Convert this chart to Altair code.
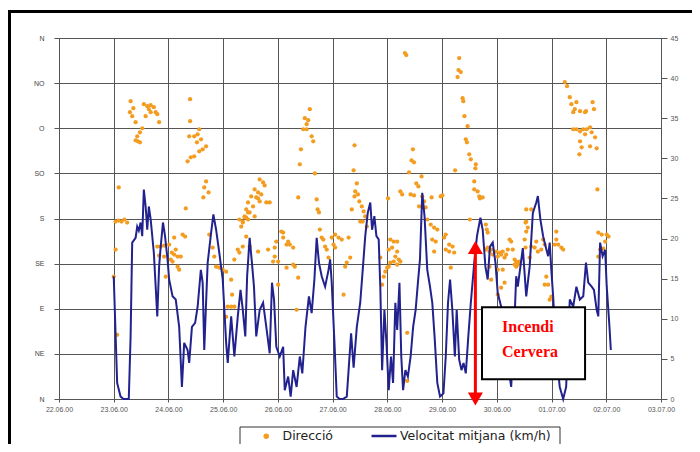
import json
import altair as alt
import pandas as pd

# ---------------- data ----------------
# velocity: hours after 23.06.00 00:00 and km/h
vel_hours = [0.0,1.5,3.0,4.3,6.6,7.4,8.1,9.6,10.3,11.0,
             11.8,12.5,13.2,14.0,14.7,15.4,16.2,17.6,19.1,19.9,
             20.6,21.6,22.5,23.6,24.3,25.8,27.2,28.7,29.9,30.9,
             32.4,33.1,34.3,35.7,36.8,38.2,39.0,39.7,40.5,41.2,
             42.7,43.7,44.9,46.3,47.8,49.3,50.0,51.5,52.9,54.4,
             55.6,56.6,57.7,58.5,59.6,60.6,61.5,62.5,64.0,65.5,
             66.9,68.4,69.4,70.3,71.3,72.8,74.3,75.0,76.5,77.6,
             78.7,80.2,81.6,82.7,84.1,85.6,86.8,88.0,89.0,90.0,
             91.2,92.7,94.2,94.9,95.6,96.8,97.8,99.1,100.5,102.2,
             103.0,104.1,105.2,106.6,108.1,109.3,110.3,111.4,112.5,113.3,
             114.3,115.2,116.2,116.9,117.7,118.7,119.6,120.6,121.6,122.5,
             123.5,124.3,125.3,126.1,126.9,127.9,129.0,130.2,131.3,132.4,
             133.4,134.3,135.3,136.3,137.5,138.7,139.7,140.7,141.9,143.1,
             144.6,145.6,146.6,147.5,148.5,149.6,150.4,151.5,152.5,153.4,
             154.4,155.5,156.6,158.1,159.3,160.8,161.8,163.0,164.0,165.0,
             166.2,167.4,168.4,169.9,172.0,174.3,175.5,176.5,177.2,179.4,
             180.9,182.4,183.8,185.3,186.0,187.1,188.3,189.4,190.5,191.2,
             191.9,192.7,194.0,195.6,197.1,198.4,200.0,201.5,202.9,204.4,
             205.9,207.1,208.1,209.6,210.6,211.8,212.5,213.3,214.4,215.5,
             216.2,217.4,218.0]
vel_kmh = [15.3,2.0,0.3,0.0,0.0,7.8,19.5,20.1,21.5,21.0,
           22.0,20.3,26.1,24.0,21.1,24.0,22.4,18.2,10.3,16.5,
           19.0,22.0,20.3,17.4,14.9,12.8,12.4,9.0,1.5,7.0,
           6.1,4.5,9.0,9.5,11.5,16.1,14.5,6.1,12.0,17.0,
           20.7,23.0,21.1,18.2,14.9,7.0,4.5,10.3,5.3,10.3,
           13.6,11.1,7.8,15.3,20.1,17.0,14.0,7.8,11.1,12.0,
           9.0,5.7,14.5,12.4,6.5,5.3,6.5,1.1,2.8,0.3,
           3.6,1.5,5.3,3.2,9.0,12.8,10.7,14.9,20.1,17.0,
           15.3,14.0,16.1,17.4,14.5,7.0,0.3,0.0,0.0,0.3,
           3.6,8.2,3.9,9.0,12.0,16.5,20.3,23.2,24.5,21.1,
           22.8,20.3,19.9,14.0,3.6,11.1,7.0,1.1,5.3,2.0,
           12.0,8.6,14.5,5.3,1.1,3.6,2.8,5.3,9.0,11.1,
           14.5,17.4,25.7,22.8,16.1,14.0,12.0,7.8,2.0,0.3,
           0.7,5.3,12.0,14.9,11.1,5.3,11.1,4.9,3.6,4.5,
           3.2,7.8,12.0,17.0,20.3,22.6,21.1,16.5,14.9,19.0,
           19.5,17.0,13.2,11.5,6.0,1.5,8.0,15.3,14.0,18.8,
           12.8,16.5,23.2,24.5,25.3,22.4,20.3,19.0,17.8,19.5,
           16.1,12.8,6.0,1.5,0.0,1.5,12.4,11.5,14.0,12.4,
           12.8,17.0,14.5,14.0,13.6,11.1,10.3,19.5,17.8,18.6,
           14.0,9.0,6.1]

# direction: hours after 23.06.00 00:00 and degrees (0 = N, 90 = E, 180 = S, 270 = O)
dir_hours = [
    2.2,0.8,2.1,3.4,4.7,5.9,0.8,0.0,1.5,
    7.4,8.6,7.1,8.1,9.6,13.2,14.7,16.2,17.6,15.4,14.0,16.2,18.4,19.1,19.9,12.5,11.5,10.3,9.6,10.6,11.5,
    19.1,20.6,22.1,24.3,26.5,27.2,30.2,31.3,25.5,26.5,28.0,29.4,19.9,22.1,25.0,25.8,28.0,28.7,22.8,
    33.5,33.5,37.5,36.8,33.1,35.3,38.3,36.5,40.5,39.0,37.5,35.3,33.8,32.4,40.5,39.7,41.6,39.3,31.6,
    41.9,43.4,44.1,44.9,46.3,47.8,49.3,51.5,51.9,50.0,51.5,52.9,49.3,52.9,55.1,56.6,58.1,55.9,57.4,58.9,58.1,59.6,56.6,55.1,54.4,
    64.0,65.5,66.2,61.8,63.3,64.7,60.3,62.5,64.0,66.9,68.4,58.9,61.1,63.3,58.1,59.6,61.8,57.4,58.9,56.6,
    63.3,67.7,70.6,71.3,73.5,74.3,70.6,69.9,72.1,75.8,77.2,78.7,74.3,76.5,78.7,79.4,80.9,75.8,72.1,80.2,
    86.0,83.8,85.3,84.6,83.1,84.6,86.8,87.5,82.1,81.6,88.2,80.9,89.0,89.4,90.0,
    90.4,91.2,91.9,95.6,97.1,98.6,92.7,93.4,96.4,97.1,100.0,94.2,100.8,103.0,103.7,102.2,101.5,
    105.6,105.2,106.6,105.9,107.1,105.6,107.7,104.4,108.8,109.6,110.3,109.2,111.0,108.1,120.3,
    121.3,122.8,124.3,122.1,120.6,124.3,123.5,125.0,122.8,121.3,120.6,119.9,119.1,118.4,117.7,116.9,125.7,124.3,128.7,128.7,
    127.7,128.3,131.2,130.6,131.7,129.5,135.0,132.7,133.6,125.7,126.5,130.2,131.7,135.3,139.4,143.4,144.1,136.1,136.8,133.9,
    137.5,139.0,140.5,141.9,139.7,141.2,145.6,144.9,147.1,148.6,149.3,147.1,140.5,147.8,145.6,
    151.5,151.2,152.2,150.8,153.0,153.3,153.8,155.2,154.4,154.9,155.9,156.6,158.8,158.6,149.7,158.1,158.1,159.6,160.3,161.8,160.6,156.2,
    163.2,163.6,164.0,164.0,164.8,165.5,166.2,167.7,168.4,169.2,169.9,170.6,171.4,172.1,172.8,173.6,174.3,175.0,175.8,176.5,177.2,178.0,175.8,176.5,177.2,170.6,168.4,164.8,165.5,168.4,169.9,171.4,163.2,
    180.2,180.9,181.6,180.9,180.6,182.4,183.1,184.6,186.0,187.5,185.3,188.3,189.0,189.7,189.0,190.5,191.9,191.2,193.4,194.1,194.9,196.3,197.1,194.1,180.9,183.1,180.6,
    197.8,198.8,200.0,200.7,202.9,202.2,201.5,204.5,207.1,206.7,210.0,210.6,201.5,202.9,204.5,205.9,207.4,208.9,209.6,211.1,206.7,204.5,205.2,208.9,211.8,204.2,212.1,
    212.5,214.0,215.5,216.2,217.0,212.5,213.3,214.7,
]
dir_deg = [
    211,177,178,177,179,176,149,122,64,
    297,290,286,282,276,294,292,293,291,289,282,286,286,284,276,270,266,262,258,257,256,
    152,152,153,154,161,149,164,162,146,144,142,142,143,142,139,137,132,129,122,
    299,277,269,264,262,262,259,256,252,249,247,242,241,237,217,211,206,201,190,
    164,151,142,132,131,129,127,119,104,92,92,92,82,139,179,177,181,172,182,186,162,152,152,146,149,
    219,216,213,209,206,204,202,201,197,196,196,196,192,200,189,186,182,181,179,176,
    147,149,151,157,167,166,142,137,137,154,154,151,161,157,134,132,121,131,114,89,
    289,280,278,274,269,269,262,257,249,234,225,201,199,189,186,
    169,161,159,161,164,161,152,149,154,151,159,141,104,161,141,136,132,
    253,228,215,207,204,202,197,189,192,187,182,177,172,177,200,
    159,157,157,151,149,147,142,139,137,136,132,131,127,122,114,141,137,134,66,18,
    345,343,249,238,236,226,222,215,212,207,204,204,203,202,201,202,203,197,191,192,
    179,174,171,169,159,157,164,161,154,152,146,147,147,131,149,
    340,328,326,321,300,297,282,272,259,256,244,239,234,230,228,217,209,207,202,201,200,179,
    174,169,166,151,147,149,144,147,142,146,144,147,141,144,149,159,157,149,139,137,136,137,134,132,134,129,129,132,119,104,111,116,149,
    159,177,171,167,151,141,152,151,147,149,157,159,154,122,114,114,102,99,154,159,154,151,149,167,189,189,176,
    316,312,301,294,296,289,286,287,287,286,296,289,269,269,267,269,269,271,266,261,264,257,251,252,250,244,209,
    166,164,157,164,162,142,149,150,
]

dir_labels = ["N", "NE", "E", "SE", "S", "SO", "O", "NO", "N"]
dir_ticks = [0, 45, 90, 135, 180, 225, 270, 315, 360]
vel_ticks = [0, 5, 10, 15, 20, 25, 30, 35, 40, 45]
day_ticks = [(6, 22), (6, 23), (6, 24), (6, 25), (6, 26), (6, 27), (6, 28), (6, 29),
             (6, 30), (7, 1), (7, 2), (7, 3)]
series_names = ["Direcció", "Velocitat mitjana (km/h)"]

# annotation (hours after 23.06.00, km/h units of the right axis)
arrow_hour = [158.6]
arrow_low = [0.0]
arrow_high = [18.9]
box_hours = [161.5, 206.7]
box_kmh = [2.45, 11.45]
note_lines = ["Incendi", "Cervera"]
note_hour = [170.3, 170.3]
note_kmh = [9.0, 5.8]

# ---------------- build ----------------
BASE = pd.Timestamp("2000-06-23 00:00")


def stamp(hours):
    return [(BASE + pd.Timedelta(hours=float(h))).strftime("%Y-%m-%dT%H:%M:%S") for h in hours]


n_v = min(len(vel_hours), len(vel_kmh))
vel_df = pd.DataFrame({"t": stamp(vel_hours[:n_v]), "v": vel_kmh[:n_v], "serie": series_names[1]})
n_d = min(len(dir_hours), len(dir_deg))
dir_df = pd.DataFrame({"t": stamp(dir_hours[:n_d]), "d": dir_deg[:n_d], "serie": series_names[0]})

arrow_df = pd.DataFrame({"t": stamp(arrow_hour), "lo": arrow_low, "hi": arrow_high})
box_df = pd.DataFrame({"t": stamp(box_hours[:1]), "t2": stamp(box_hours[1:]),
                       "lo": box_kmh[:1], "hi": box_kmh[1:]})
note_df = pd.DataFrame({"t": stamp(note_hour), "v": note_kmh, "txt": note_lines})
dummy = pd.DataFrame({"a": [0]})

ORANGE = "#F39C1F"
NAVY = "#22228F"
GRID = "#555555"
LABEL = "#555555"

x_scale = alt.Scale(domain=[alt.DateTime(year=2000, month=6, date=22),
                            alt.DateTime(year=2000, month=7, date=3)], nice=False)
x_axis = alt.Axis(values=[alt.DateTime(year=2000, month=m, date=d) for m, d in day_ticks],
                  format="%d.%m.%y", grid=True, gridColor=GRID, gridWidth=1,
                  labelFontSize=7, labelColor=LABEL, labelPadding=3, tickSize=3,
                  tickColor=GRID, domainColor=GRID, labelFlush=False)

label_expr = json.dumps(dir_labels) + "[round(datum.value / 45)]"

points = alt.Chart(dir_df).mark_circle(size=18, opacity=1).encode(
    x=alt.X("t:T", scale=x_scale, axis=x_axis, title=None),
    y=alt.Y("d:Q", scale=alt.Scale(domain=[0, 360], nice=False),
            axis=alt.Axis(values=dir_ticks, labelExpr=label_expr, grid=True, gridColor=GRID,
                          gridWidth=1, tickSize=5, tickColor=GRID, labelPadding=10,
                          labelFontSize=7, labelColor="#444", domainColor=GRID),
            title=None),
    color=alt.Color("serie:N", scale=alt.Scale(domain=series_names[:1], range=[ORANGE]),
                    title=None,
                    legend=alt.Legend(orient="none", legendX=201, legendY=392, symbolType="circle",
                                      symbolSize=30, labelFontSize=12.5, labelFont="DejaVu Sans",
                                      labelColor="#222", labelOffset=10, padding=0)),
)

line = alt.Chart(vel_df).mark_line(strokeWidth=2).encode(
    x=alt.X("t:T", scale=x_scale, title=None),
    y=alt.Y("v:Q", scale=alt.Scale(domain=[0, 45], nice=False),
            axis=alt.Axis(orient="right", values=vel_ticks, grid=False, tickSize=6,
                          tickColor=GRID, labelPadding=3, labelFontSize=7, labelColor=LABEL,
                          domainColor=GRID),
            title=None),
    stroke=alt.Stroke("serie:N", scale=alt.Scale(domain=series_names[1:], range=[NAVY]),
                      title=None,
                      legend=alt.Legend(orient="none", legendX=311, legendY=384,
                                        symbolStrokeWidth=2.5, symbolSize=625,
                                        labelFontSize=12.5, labelFont="DejaVu Sans",
                                        labelColor="#222", labelOffset=2, padding=0)),
)

vel_y = alt.Scale(domain=[0, 45], nice=False)

box = alt.Chart(box_df).mark_rect(fill="white", stroke="black", strokeWidth=2).encode(
    x=alt.X("t:T", scale=x_scale, title=None), x2="t2:T",
    y=alt.Y("lo:Q", scale=vel_y, axis=None), y2="hi:Q",
)
note = alt.Chart(note_df).mark_text(font="Liberation Serif", fontWeight="bold", fontSize=16,
                                    color="#FF0000", align="left", baseline="middle").encode(
    x=alt.X("t:T", scale=x_scale, title=None),
    y=alt.Y("v:Q", scale=vel_y, axis=None),
    text="txt:N",
)
arrow_line = alt.Chart(arrow_df).mark_rule(color="#FF0000", strokeWidth=3).encode(
    x=alt.X("t:T", scale=x_scale, title=None),
    y=alt.Y("lo:Q", scale=vel_y, axis=None), y2="hi:Q",
)
arrow_top = alt.Chart(arrow_df).mark_point(shape="triangle-up", filled=True, size=225,
                                           color="#FF0000", opacity=1).encode(
    x=alt.X("t:T", scale=x_scale, title=None),
    y=alt.Y("hi:Q", scale=vel_y, axis=None),
)
arrow_bot = alt.Chart(arrow_df).mark_point(shape="triangle-down", filled=True, size=225,
                                           color="#FF0000", opacity=1).encode(
    x=alt.X("t:T", scale=x_scale, title=None),
    y=alt.Y("lo:Q", scale=vel_y, axis=None),
)

frame = alt.Chart(dummy).mark_rect(fillOpacity=0, stroke="black", strokeWidth=3).encode(
    x=alt.value(-49.5), x2=alt.value(680), y=alt.value(-26.5), y2=alt.value(460),
)
legend_box = alt.Chart(dummy).mark_rect(fillOpacity=0, stroke="#333", strokeWidth=1).encode(
    x=alt.value(181), x2=alt.value(501), y=alt.value(389), y2=alt.value(440),
)

chart = alt.layer(points, line, box, note, arrow_line, arrow_top, arrow_bot, frame, legend_box).resolve_scale(
    y="independent"
).properties(
    width=602, height=361,
    padding={"left": 51, "top": 30, "right": 31, "bottom": 45},
    autosize=alt.AutoSizeParams(type="none"),
    background="white",
).configure_view(stroke="#999999").configure_axis(labelFont="Liberation Sans")

chart.save("out.html", embed_options={"renderer": "svg", "actions": False})
